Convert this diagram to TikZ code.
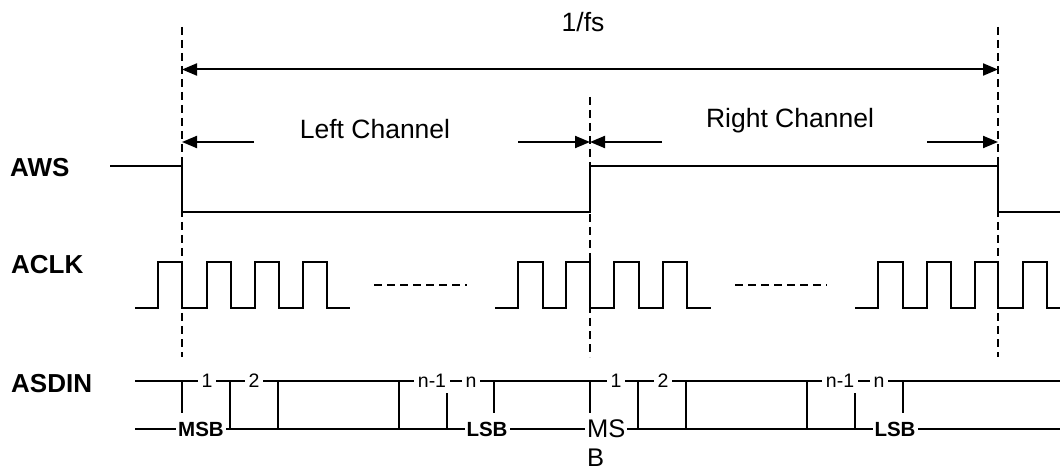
\documentclass[tikz,border=0pt]{standalone}
\usepackage{fontspec}
\setmainfont{Liberation Sans}
\usetikzlibrary{arrows.meta}
\begin{document}
\begin{tikzpicture}[x=1pt,y=-1pt,
  wave/.style={line width=2pt, line join=miter},
  guide/.style={line width=1.8pt, dash pattern=on 8pt off 5pt},
  dim/.style={line width=2pt, -{Triangle[length=15pt,width=12pt]}},
  dimboth/.style={line width=2pt, {Triangle[length=15pt,width=12pt]}-{Triangle[length=15pt,width=12pt]}},
  signame/.style={font=\fontsize{26}{31}\selectfont\bfseries, anchor=base west, inner sep=0pt},
  big/.style={font=\fontsize{26.5}{31}\selectfont, anchor=base, inner sep=0pt},
  bit/.style={font=\fontsize{19.5}{23}\selectfont, anchor=base, fill=white, inner xsep=4pt, inner ysep=1pt},
  bitb/.style={font=\fontsize{20.5}{24}\selectfont\bfseries, anchor=base, fill=white, inner xsep=2pt, inner ysep=1pt},
  msb/.style={font=\fontsize{25.5}{30}\selectfont, anchor=base west, fill=white, inner xsep=2pt, inner ysep=1pt}]
\useasboundingbox (0,0) rectangle (1060,470);

% guide lines
\coordinate (g1t) at (182,27);  \coordinate (g1b) at (182,357);
\coordinate (g2t) at (590,97);  \coordinate (g2b) at (590,357);
\coordinate (g3t) at (998,27);  \coordinate (g3b) at (998,357);
\draw[guide] (g1t) -- (g1b);
\draw[guide] (g2t) -- (g2b);
\draw[guide] (g3t) -- (g3b);

% 1/fs
\node[big] (fs) at (583,32) {1/fs};
\coordinate (fsL) at (182,69.5); \coordinate (fsR) at (998,69.5);
\draw[dimboth] (fsL) -- (fsR);

% channel dimension arrows
\node[big] (lc) at (375,139) {Left Channel};
\node[big] (rc) at (790,128) {Right Channel};
\coordinate (lcA) at (254,142); \coordinate (lcL) at (182,142);
\coordinate (lcB) at (518,142); \coordinate (lcR) at (590,142);
\coordinate (rcA) at (662,142); \coordinate (rcL) at (590,142);
\coordinate (rcB) at (927,142); \coordinate (rcR) at (998,142);
\draw[dim] (lcA) -- (lcL);
\draw[dim] (lcB) -- (lcR);
\draw[dim] (rcA) -- (rcL);
\draw[dim] (rcB) -- (rcR);

% signal names
\node[signame] (aws) at (10,177) {AWS};
\node[signame] (aclk) at (11,274) {ACLK};
\node[signame] (asdin) at (11,392) {ASDIN};

% AWS
\draw[wave] (110,166) -- (182,166) -- (182,212) -- (590,212) -- (590,166) -- (998,166) -- (998,212) -- (1060,212);

% ACLK
\draw[wave] (135,308) -- (158,308) -- (158,262) -- (182,262) -- (182,308) -- (207,308) -- (207,262) -- (231,262) -- (231,308) -- (255,308) -- (255,262) -- (279,262) -- (279,308) -- (303,308) -- (303,262) -- (327,262) -- (327,308) -- (350,308);
\draw[wave] (495,308) -- (518,308) -- (518,262) -- (543,262) -- (543,308) -- (566,308) -- (566,262) -- (590,262) -- (590,308) -- (614,308) -- (614,262) -- (639,262) -- (639,308) -- (663,308) -- (663,262) -- (687,262) -- (687,308) -- (711,308);
\draw[wave] (855,308) -- (878,308) -- (878,262) -- (903,262) -- (903,308) -- (927,308) -- (927,262) -- (951,262) -- (951,308) -- (975,308) -- (975,262) -- (998,262) -- (998,308) -- (1023,308) -- (1023,262) -- (1047,262) -- (1047,308) -- (1060,308);
\draw[guide] (374,285) -- (467,285);
\draw[guide] (735,285) -- (827,285);

% ASDIN
\draw[wave] (135,381) -- (1060,381);
\draw[wave] (135,429) -- (1060,429);
\foreach \x in {230,278,399,638,686,807} \draw[wave] (\x,381) -- (\x,429);
\foreach \x in {182,494,590,903} \draw[wave] (\x,381) -- (\x,413);
\foreach \x in {447,855} \draw[wave] (\x,393) -- (\x,429);

\node[bit] (b1) at (207,387) {1};
\node[bit] (b2) at (254,387) {2};
\node[bit] (bn1) at (432,387) {n-1};
\node[bit] (bn) at (471,387) {n};
\node[bit] (c1) at (616,387) {1};
\node[bit] (c2) at (663,387) {2};
\node[bit] (cn1) at (840,387) {n-1};
\node[bit] (cn) at (879,387) {n};

\node[bitb] (msbL) at (201,436) {MSB};
\node[bitb] (lsbL) at (487,436) {LSB};
\node[bitb] (lsbR) at (895,436) {LSB};
\node[msb] (msR) at (585,437) {MS};
\node[msb, fill=none, inner sep=0pt] (bR) at (587,466) {B};
\end{tikzpicture}
\end{document}
